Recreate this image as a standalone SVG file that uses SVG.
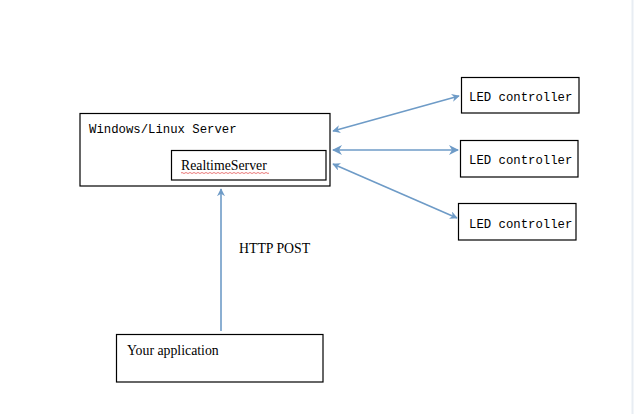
<svg xmlns="http://www.w3.org/2000/svg" width="634" height="414" viewBox="0 0 634 414">
<style>
.box{fill:#fff;stroke:#000;stroke-width:1.2}
.mono{font-family:"Liberation Mono","DejaVu Sans Mono",monospace;font-size:12.3px;fill:#000}
.serif{font-family:"Liberation Serif","Times New Roman",serif;font-size:13.8px;fill:#000}
.conn{stroke:#6e9bc7;stroke-width:1.6;fill:none}
</style>
<defs>
<marker id="ah" viewBox="0 0 10 10" refX="9" refY="5" markerWidth="8" markerHeight="8" markerUnits="userSpaceOnUse" orient="auto-start-reverse">
<path d="M0,0 L10,5 L0,10 L3,5 Z" fill="#6e9bc7"/>
</marker>
<marker id="ah2" viewBox="0 0 10 10" refX="9" refY="5" markerWidth="10" markerHeight="10" markerUnits="userSpaceOnUse" orient="auto-start-reverse">
<path d="M0,0 L10,5 L0,10 L3,5 Z" fill="#6e9bc7"/>
</marker>
</defs>
<rect x="0" y="0" width="634" height="414" fill="#fff"/>
<line x1="632.5" y1="0" x2="632.5" y2="414" stroke="#e8edf3" stroke-width="2"/>
<g id="server">
<rect class="box" x="80" y="113.5" width="250" height="72.5"/>
<text class="mono" x="89" y="133">Windows/Linux Server</text>
</g>
<g id="realtime">
<rect class="box" x="171.5" y="150.5" width="154.5" height="29.5"/>
<text class="serif" x="181" y="170">RealtimeServer</text>
<path d="M181,173 q1,-1 2,0 t2,0 t2,0 t2,0 t2,0 t2,0 t2,0 t2,0 t2,0 t2,0 t2,0 t2,0 t2,0 t2,0 t2,0 t2,0 t2,0 t2,0 t2,0 t2,0 t2,0 t2,0 t2,0 t2,0 t2,0 t2,0 t2,0 t2,0 t2,0 t2,0 t2,0 t2,0 t2,0 t2,0 t2,0 t2,0 t2,0 t2,0 t2,0 t2,0 t2,0 t2,0 t2,0 t2,0" fill="none" stroke="#e04040" stroke-width="0.7"/>
</g>
<g id="led1">
<rect class="box" x="461.5" y="77.5" width="117.5" height="35.5"/>
<text class="mono" x="469" y="101">LED controller</text>
</g>
<g id="led2">
<rect class="box" x="460.5" y="140.5" width="117.5" height="36.5"/>
<text class="mono" x="469" y="164">LED controller</text>
</g>
<g id="led3">
<rect class="box" x="458.5" y="203.5" width="117.5" height="36.5"/>
<text class="mono" x="469" y="228">LED controller</text>
</g>
<g id="app">
<rect class="box" x="116.5" y="334.5" width="206.5" height="47.5"/>
<text class="serif" x="127" y="355">Your application</text>
</g>
<g id="connectors">
<line class="conn" x1="333" y1="131" x2="459" y2="96" marker-start="url(#ah)" marker-end="url(#ah)"/>
<line class="conn" x1="333" y1="150" x2="458" y2="150" stroke-width="2.2" marker-start="url(#ah2)" marker-end="url(#ah2)"/>
<line class="conn" x1="333" y1="164" x2="457" y2="218" marker-start="url(#ah)" marker-end="url(#ah)"/>
<line class="conn" x1="221" y1="331" x2="221" y2="189" marker-end="url(#ah)"/>
<text class="serif" x="239" y="253">HTTP POST</text>
</g>
</svg>
